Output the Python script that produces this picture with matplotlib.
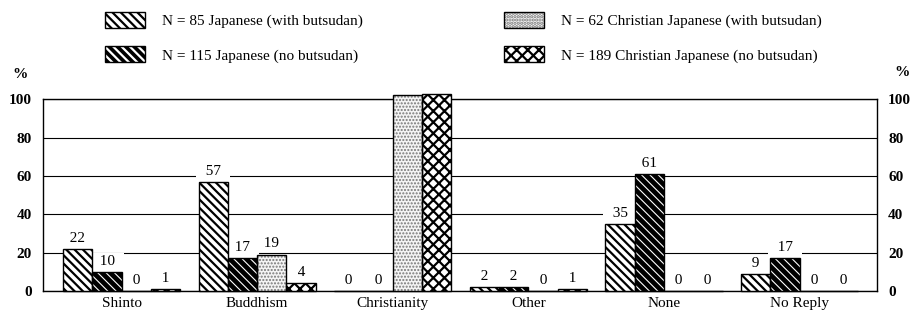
import numpy as np
import matplotlib
matplotlib.use('Agg')
import matplotlib.pyplot as plt
from matplotlib.patches import Patch
from matplotlib.legend_handler import HandlerTuple

categories = ['Shinto', 'Buddhism', 'Christianity', 'Other', 'None', 'No Reply']
japanese_with = [22, 57, 0, 2, 35, 9]
japanese_without = [10, 17, 0, 2, 61, 17]
christian_with = [0, 19, 102, 0, 0, 0]
christian_without = [1, 4, 103, 1, 0, 0]
series_labels = ['N = 85 Japanese (with butsudan)',
                 'N = 115 Japanese (no butsudan)',
                 'N = 62 Christian Japanese (with butsudan)',
                 'N = 189 Christian Japanese (no butsudan)']
yticks = [0, 20, 40, 60, 80, 100]

# face colour, hatch colour, hatch, hatch line width
STYLES = [
    ('white', 'black', '\\\\\\\\', 1.6),
    ('black', 'white', '\\\\\\\\', 0.8),
    ('#f4f4f4', '#777777', '.....', 1.0),
    ('white', 'black', 'xxx', 1.6),
]

plt.rcParams['font.family'] = ['Liberation Serif', 'DejaVu Serif']
plt.rcParams['font.size'] = 11
plt.rcParams['hatch.linewidth'] = 1.6


def set_hatch_lw(patch, lw):
    # per-artist hatch width only exists in newer matplotlib
    if hasattr(patch, 'set_hatch_linewidth'):
        patch.set_hatch_linewidth(lw)


fig = plt.figure(figsize=(9.11, 3.11), dpi=100)
ax = fig.add_axes([43 / 911, 1 - 291 / 311, 834 / 911, 191.7 / 311])

x = np.arange(len(categories))
w = 0.216
series = [japanese_with, japanese_without, christian_with, christian_without]
handles = []
for i, (vals, (face, hc, hatch, hlw)) in enumerate(zip(series, STYLES)):
    pos = x + (i - 1.5) * w
    bars = ax.bar(pos, vals, w, color=face, edgecolor=hc, hatch=hatch, linewidth=0,
                  zorder=3, clip_on=False)
    for b in bars:
        set_hatch_lw(b, hlw)
    ax.bar(pos, vals, w, fill=False, edgecolor='black', linewidth=1,
           zorder=3.1, clip_on=False)
    for xp, v in zip(pos, vals):
        # white box breaks the grid lines round the number, as in the print
        ax.annotate('  %d  ' % v, (xp, v), xytext=(0, 3), textcoords='offset points',
                    ha='center', va='bottom', zorder=2.2,
                    bbox=dict(boxstyle='square,pad=0.1', fc='white', ec='none'))
    hp = Patch(facecolor=face, edgecolor=hc, hatch=hatch, linewidth=0)
    set_hatch_lw(hp, hlw)
    handles.append((hp, Patch(fill=False, edgecolor='black', linewidth=1)))

ax.set_xlim(-0.579, 5.57)
ax.set_ylim(0, 100)
ax.set_yticks(yticks)
ax.tick_params(axis='y', length=0, pad=8, labelright=True)
for lab in ax.yaxis.get_ticklabels(which='both'):
    lab.set_fontweight('bold')
ax.set_xticks(x, categories)
ax.tick_params(axis='x', length=0, pad=4)
ax.set_axisbelow(True)
ax.yaxis.grid(True, color='black', linewidth=0.8)
for s in ax.spines.values():
    s.set_linewidth(1)

fig.text(19.5 / 911, 1 - 74 / 311, '%', ha='center', va='center', fontweight='bold')
fig.text(902 / 911, 1 - 73 / 311, '%', ha='center', va='center', fontweight='bold')

leg = fig.legend(handles, series_labels,
                 handler_map={tuple: HandlerTuple(ndivide=1, pad=0)},
                 ncol=2, loc='upper left', bbox_to_anchor=(105 / 911, 1 - 11.7 / 311),
                 frameon=False, borderpad=0, borderaxespad=0,
                 handlelength=2.6, handleheight=1.24, handletextpad=1.1,
                 labelspacing=1.2, columnspacing=9.3)

fig.savefig('out.png', dpi=100)
